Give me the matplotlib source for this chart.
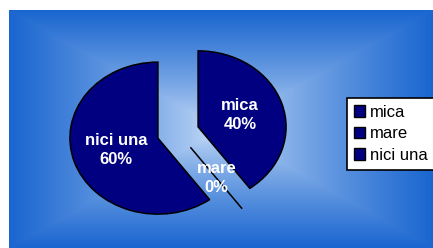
import matplotlib.pyplot as plt
import numpy as np
from matplotlib.patches import Rectangle

labels = ['mica', 'mare', 'nici una']
values = [40, 0, 60]

W, H = 433, 248
fig = plt.figure(figsize=(W / 100, H / 100), dpi=100)
fig.patch.set_facecolor('white')

# rectangular "from centre" gradient background
bg = fig.add_axes([9 / W, 0, 1 - 9 / W, 1 - 10 / H])
bg.set_axis_off()
yy, xx = np.mgrid[-1:1:300j, -1:1:500j]
t = np.maximum(np.abs(xx), np.abs(yy))
t = np.clip(t, 0, 1) ** 0.75
light = np.array([210, 228, 250]) / 255
dark = np.array([26, 102, 208]) / 255
img = light[None, None, :] * (1 - t[..., None]) + dark[None, None, :] * t[..., None]
bg.imshow(img, aspect='auto', extent=(0, 1, 0, 1))

# pie axes, mapped so the pie is an ellipse (rx=88px, ry=76px)
ax = fig.add_axes([0, 0, 1, 1])
ax.patch.set_alpha(0)
cx, cy = 178, 132.5
wedges, texts, autotexts = ax.pie(
    values, startangle=90, counterclock=False, explode=[0.24] * 3,
    colors=['#000080'] * 3, autopct='%1.0f%%', pctdistance=0.5,
    wedgeprops=dict(edgecolor='black', linewidth=1.1),
    textprops=dict(color='white', fontsize=12, fontweight='bold',
                   family='Liberation Sans'))
for at, name in zip(autotexts, labels):
    at.set_text(f"{name}\n{at.get_text()}")
    at.set_linespacing(1.3)
ax.set_aspect('auto')
ax.set_xlim(-cx / 88, (W - cx) / 88)
ax.set_ylim((cy - H) / 76, cy / 76)
ax.set_axis_off()

handles = [Rectangle((0, 0), 1, 1, facecolor='#000080', edgecolor='black',
                     linewidth=1) for _ in labels]
leg = fig.legend(handles, labels, loc='upper left', mode='expand',
                 bbox_to_anchor=(347 / W, 0, 95 / W, 1 - 98 / H),
                 bbox_transform=fig.transFigure, frameon=True, fancybox=False,
                 framealpha=1, prop=dict(family='Liberation Sans', size=12),
                 handlelength=0.7, handleheight=0.7, handletextpad=0.3,
                 labelspacing=0.4, borderpad=0.4, borderaxespad=0)
leg.get_frame().set_edgecolor('black')
leg.get_frame().set_linewidth(1.2)
leg.get_frame().set_facecolor('white')

fig.savefig('out.png', dpi=100)
